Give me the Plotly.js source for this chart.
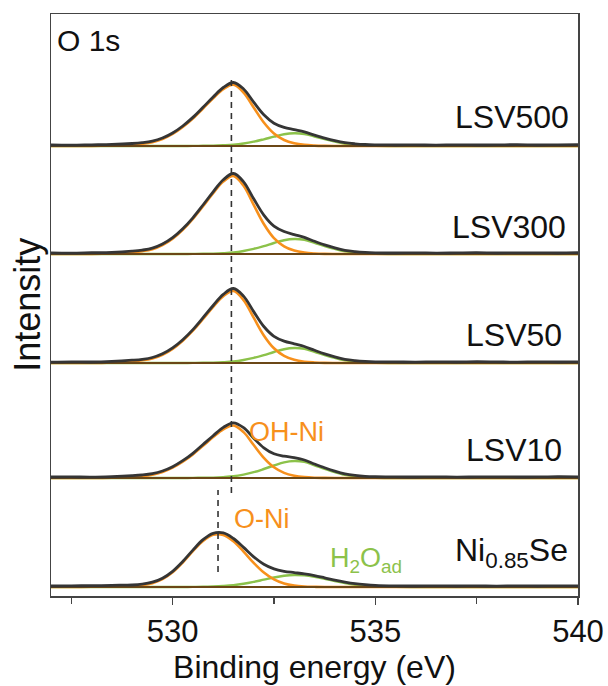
<!DOCTYPE html>
<html>
<head>
<meta charset="utf-8">
<script src="https://cdn.plot.ly/plotly-3.0.1.min.js"></script>
<style>html,body{margin:0;padding:0;background:#fff;}#chart{width:608px;height:686px;}</style>
</head>
<body>
<div id="chart"></div>
<script>
// Binding energy grid (eV)
const energy = [527, 527.5, 528, 528.5, 529, 529.25, 529.5, 529.75, 530, 530.25, 530.5, 530.75, 531, 531.25, 531.5, 531.75, 532, 532.25, 532.5, 532.75, 533, 533.25, 533.5, 533.75, 534, 534.25, 534.5, 534.75, 535, 535.5, 536, 536.5, 537, 537.5, 538, 538.5, 539, 539.5, 540];

// Sample names (bottom to top)
const samples = ['Ni<sub>0.85</sub>Se', 'LSV10', 'LSV50', 'LSV300', 'LSV500'];
// Vertical stacking offsets (a.u.)
const offsets = [9, 118, 233, 342, 450];

// Measured data / envelope (a.u., above background)
const envNi  = [1.0, 1.2, 1.3, 1.7, 2.0, 2.8, 4.8, 8.8, 15.7, 25.5, 36.9, 47.3, 53.7, 54.1, 48.5, 39.6, 30.2, 22.7, 18.1, 15.7, 14.4, 13.1, 11.4, 9.2, 6.9, 4.9, 3.3, 2.3, 1.6, 1.1, 1.0, 1.2, 1.0, 1.1, 0.9, 1.2, 1.0, 1.1, 1.2];
const env10  = [1.0, 1.1, 0.9, 1.4, 2.3, 3.0, 4.3, 7.0, 11.3, 17.3, 24.7, 33.5, 42.3, 50.6, 55.2, 50.3, 39.8, 30.2, 24.2, 21.8, 20.3, 18.0, 14.0, 10.2, 6.8, 4.1, 2.6, 1.7, 1.3, 1.1, 1.0, 1.2, 0.9, 1.1, 1.2, 1.0, 1.1, 1.3, 1.2];
const env50  = [0.9, 1.2, 1.0, 1.6, 2.8, 3.7, 5.5, 9.2, 15.1, 23.3, 33.4, 45.3, 57.5, 68.6, 74.5, 66.9, 51.4, 36.5, 26.7, 21.9, 19.2, 16.5, 12.7, 9.1, 6.1, 3.7, 2.4, 1.6, 1.2, 1.1, 0.9, 1.2, 1.0, 1.3, 1.1, 0.9, 1.2, 1.0, 1.1];
const env300 = [1.1, 0.9, 1.3, 1.7, 2.9, 3.9, 5.8, 9.9, 16.3, 25.2, 36.2, 49.0, 62.2, 74.2, 80.5, 72.2, 55.2, 38.9, 27.9, 22.5, 19.4, 16.6, 12.7, 9.1, 6.1, 3.7, 2.4, 1.6, 1.2, 1.0, 1.2, 0.9, 1.1, 1.3, 1.0, 1.2, 1.1, 1.0, 1.3];
const env500 = [1.0, 0.8, 1.2, 1.6, 2.5, 3.3, 4.8, 8.0, 13.0, 20.0, 28.6, 38.7, 49.0, 58.5, 63.5, 57.0, 43.8, 31.2, 22.8, 18.7, 16.4, 14.1, 10.9, 7.9, 5.3, 3.3, 2.2, 1.5, 1.2, 1.0, 1.1, 0.9, 1.2, 1.0, 1.1, 1.3, 1.0, 1.2, 1.4];

// Fitted component: lattice O-Ni (Ni0.85Se) / OH-Ni (LSV samples)
const oxNi  = [0, 0, 0.2, 0.5, 1.0, 1.8, 3.8, 7.8, 14.7, 24.5, 35.8, 46.1, 52.2, 52.1, 45.7, 35.4, 24.1, 14.4, 7.6, 3.5, 1.4, 0.5, 0.2, 0, 0, 0, 0, 0, 0, 0, 0, 0, 0, 0, 0, 0, 0, 0, 0];
const ox10  = [0, 0, 0, 0.4, 1.3, 2.0, 3.3, 6.0, 10.3, 16.3, 23.6, 32.2, 40.9, 48.7, 52.5, 45.9, 33.0, 20.2, 10.7, 5.1, 2.3, 0.9, 0.3, 0.1, 0, 0, 0, 0, 0, 0, 0, 0, 0, 0, 0, 0, 0, 0, 0];
const ox50  = [0, 0, 0, 0.6, 1.8, 2.7, 4.5, 8.2, 14.1, 22.3, 32.3, 44.1, 56.1, 66.8, 72.0, 62.9, 45.3, 27.6, 14.7, 7.1, 3.2, 1.3, 0.5, 0.1, 0, 0, 0, 0, 0, 0, 0, 0, 0, 0, 0, 0, 0, 0, 0];
const ox300 = [0, 0, 0, 0.6, 1.9, 2.9, 4.8, 8.9, 15.3, 24.2, 35.1, 47.8, 60.8, 72.4, 78.0, 68.2, 49.1, 30.0, 15.9, 7.7, 3.4, 1.4, 0.5, 0.1, 0, 0, 0, 0, 0, 0, 0, 0, 0, 0, 0, 0, 0, 0, 0];
const ox500 = [0, 0, 0, 0.5, 1.5, 2.3, 3.8, 7.0, 12.0, 19.0, 27.5, 37.5, 47.7, 56.8, 61.2, 53.5, 38.5, 23.5, 12.5, 6.0, 2.7, 1.1, 0.4, 0.1, 0, 0, 0, 0, 0, 0, 0, 0, 0, 0, 0, 0, 0, 0, 0];

// Fitted component: adsorbed water H2O_ad
const wNi  = [0, 0, 0, 0, 0, 0, 0, 0, 0, 0, 0.1, 0.2, 0.5, 1.0, 1.8, 3.2, 5.1, 7.3, 9.5, 11.2, 12.0, 11.6, 10.2, 8.2, 5.9, 3.9, 2.3, 1.3, 0.6, 0.1, 0, 0, 0, 0, 0, 0, 0, 0, 0];
const w10  = [0, 0, 0, 0, 0, 0, 0, 0, 0, 0, 0.1, 0.3, 0.4, 0.9, 1.7, 3.4, 5.8, 9.0, 12.5, 15.7, 17.0, 16.1, 12.7, 9.1, 5.8, 3.1, 1.6, 0.7, 0.3, 0, 0, 0, 0, 0, 0, 0, 0, 0, 0];
const w50  = [0, 0, 0, 0, 0, 0, 0, 0, 0, 0, 0.1, 0.2, 0.4, 0.8, 1.5, 3.0, 5.1, 7.9, 11.0, 13.8, 15.0, 14.2, 11.2, 8.0, 5.1, 2.7, 1.4, 0.6, 0.2, 0, 0, 0, 0, 0, 0, 0, 0, 0, 0];
const w300 = [0, 0, 0, 0, 0, 0, 0, 0, 0, 0, 0.1, 0.2, 0.4, 0.8, 1.5, 3.0, 5.1, 7.9, 11.0, 13.8, 15.0, 14.2, 11.2, 8.0, 5.1, 2.7, 1.4, 0.6, 0.2, 0, 0, 0, 0, 0, 0, 0, 0, 0, 0];
const w500 = [0, 0, 0, 0, 0, 0, 0, 0, 0, 0, 0.1, 0.2, 0.3, 0.7, 1.3, 2.5, 4.3, 6.7, 9.3, 11.7, 12.7, 12.0, 9.5, 6.8, 4.3, 2.3, 1.2, 0.5, 0.2, 0, 0, 0, 0, 0, 0, 0, 0, 0, 0];

// Peak-position guide lines (eV)
const peakOH = 531.45;
const peakO  = 531.12;

// Axis ticks
const xTicks = [530, 535, 540];
const xMinorTicks = [527.5, 532.5, 537.5];

const envelopes = [envNi, env10, env50, env300, env500];
const oxides = [oxNi, ox10, ox50, ox300, ox500];
const waters = [wNi, w10, w50, w300, w500];

const C_ENV = '#353535', C_OX = '#f7901c', C_W = '#8cc24a', C_BG = '#6b4716';
const FONT = 'Liberation Sans, Arial, Helvetica, sans-serif';

const traces = [];
samples.forEach((s, i) => {
  const off = offsets[i];
  const shift = arr => arr.map(v => v + off);
  traces.push({x: energy, y: shift(waters[i]), mode: 'lines', line: {color: C_W, width: 2.4, shape: 'spline', smoothing: 1}, hoverinfo: 'skip'});
  traces.push({x: energy, y: shift(oxides[i]), mode: 'lines', line: {color: C_OX, width: 2.6, shape: 'spline', smoothing: 1}, hoverinfo: 'skip'});
  traces.push({x: energy, y: energy.map(() => off), mode: 'lines', line: {color: C_BG, width: 2}, hoverinfo: 'skip'});
  traces.push({x: energy, y: shift(envelopes[i]), mode: 'lines', line: {color: C_ENV, width: 2.8, shape: 'spline', smoothing: 1}, hoverinfo: 'skip'});
});

const labelY = [44, 146, 261, 369, 479];
const labelX = [539.8, 539.65, 539.65, 539.75, 539.83];
const annotations = samples.map((s, i) => ({
  x: labelX[i], y: labelY[i], xref: 'x', yref: 'y', text: s, showarrow: false,
  xanchor: 'right', yanchor: 'middle', font: {family: FONT, size: 32, color: '#111'}
}));
annotations.push({x: 527.1, y: 556, xref: 'x', yref: 'y', text: 'O 1s', showarrow: false, xanchor: 'left', yanchor: 'middle', font: {family: FONT, size: 30, color: '#111'}});
annotations.push({x: 532.82, y: 164, xref: 'x', yref: 'y', text: 'OH-Ni', showarrow: false, xanchor: 'center', yanchor: 'middle', font: {family: FONT, size: 27, color: C_OX}});
annotations.push({x: 532.2, y: 77, xref: 'x', yref: 'y', text: 'O-Ni', showarrow: false, xanchor: 'center', yanchor: 'middle', font: {family: FONT, size: 27, color: C_OX}});
annotations.push({x: 534.77, y: 36, xref: 'x', yref: 'y', text: 'H<sub>2</sub>O<sub>ad</sub>', showarrow: false, xanchor: 'center', yanchor: 'middle', font: {family: FONT, size: 27, color: C_W}});
annotations.push({x: -0.046, y: 0.5, xref: 'paper', yref: 'paper', text: 'Intensity', textangle: -90, showarrow: false, xanchor: 'center', yanchor: 'middle', font: {family: FONT, size: 36, color: '#111'}});

const shapes = [
  {type: 'line', xref: 'x', yref: 'y', x0: peakOH, x1: peakOH, y0: 103, y1: 520, line: {color: '#333', width: 1.6, dash: '6px,5px'}},
  {type: 'line', xref: 'x', yref: 'y', x0: peakO, x1: peakO, y0: 24, y1: 106, line: {color: '#333', width: 1.6, dash: '6px,5px'}}
];

const layout = {
  width: 608, height: 686,
  margin: {l: 51, r: 30, t: 14, b: 90},
  paper_bgcolor: '#fff', plot_bgcolor: '#fff',
  showlegend: false,
  font: {family: FONT, color: '#111'},
  xaxis: {
    range: [527, 540], showline: true, mirror: true, linecolor: '#444', linewidth: 1.5,
    ticks: 'outside', tickmode: 'array', tickvals: xTicks, ticklen: 7, tickwidth: 1.5, tickcolor: '#444',
    tickfont: {family: FONT, size: 31, color: '#111'},
    minor: {tickmode: 'array', tickvals: xMinorTicks, ticks: 'outside', ticklen: 6, tickwidth: 1.2, tickcolor: '#444', showgrid: false},
    showgrid: false, zeroline: false,
    title: {text: 'Binding energy (eV)', font: {family: FONT, size: 32, color: '#111'}, standoff: 4}
  },
  yaxis: {
    range: [0, 582], showline: true, mirror: true, linecolor: '#444', linewidth: 1.5,
    ticks: '', showticklabels: false, showgrid: false, zeroline: false
  },
  annotations: annotations,
  shapes: shapes
};

Plotly.newPlot('chart', traces, layout, {displayModeBar: false, staticPlot: true});
</script>
</body>
</html>
